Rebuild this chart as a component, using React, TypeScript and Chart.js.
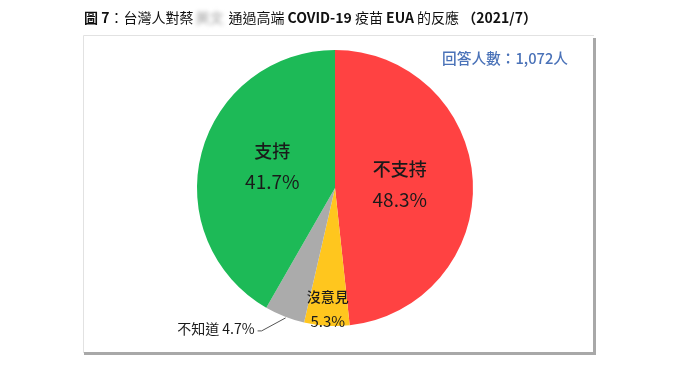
import React, { useEffect, useRef } from "react";
import { Chart, registerables } from "chart.js";

Chart.register(...registerables);

const categories = ["不支持", "沒意見", "不知道", "支持"];
const values = [48.3, 5.3, 4.7, 41.7];
const colors = ["#FF4242", "#FFC61E", "#ABABAB", "#1DBA57"];
const respondents = "回答人數：1,072人";

const FONT = '"Noto Sans CJK TC", "Noto Sans", sans-serif';

const decorPlugin = {
  id: "decor",
  beforeDraw(chart: any) {
    const ctx = chart.ctx as CanvasRenderingContext2D;
    ctx.save();
    ctx.fillStyle = "#ffffff";
    ctx.fillRect(0, 0, chart.width, chart.height);
    // frame
    ctx.strokeStyle = "#e2e2e2";
    ctx.lineWidth = 1;
    ctx.beginPath();
    ctx.moveTo(83.5, 353);
    ctx.lineTo(83.5, 35.5);
    ctx.lineTo(594, 35.5);
    ctx.stroke();
    ctx.strokeStyle = "#a8a8a8";
    ctx.lineWidth = 3;
    ctx.beginPath();
    ctx.moveTo(594.5, 38);
    ctx.lineTo(594.5, 353.5);
    ctx.lineTo(84, 353.5);
    ctx.stroke();
    // title
    const segs: [string, boolean, string][] = [
      ["圖 7", true, "#111"],
      ["：台灣人對蔡", false, "#111"],
      ["英文", false, "blur"],
      ["通過高端 ", false, "#111"],
      ["COVID-19", true, "#111"],
      [" 疫苗 ", false, "#111"],
      ["EUA", true, "#111"],
      [" 的反應 ", false, "#111"],
      ["（2021/7）", true, "#111"],
    ];
    let x = 84;
    ctx.textBaseline = "middle";
    ctx.textAlign = "left";
    for (const [t, b, c] of segs) {
      ctx.font = `${b ? "bold " : ""}14px ${FONT}`;
      if (c === "blur") {
        ctx.save();
        ctx.filter = "blur(2px)";
        ctx.fillStyle = "#9a9a9a";
        ctx.fillText(t, x + 2, 18);
        ctx.restore();
        x += ctx.measureText(t).width + 7;
      } else {
        ctx.fillStyle = c;
        ctx.fillText(t, x, 18);
        x += ctx.measureText(t).width;
      }
    }
    // respondents
    ctx.font = `500 14.7px ${FONT}`;
    ctx.fillStyle = "#4A72B8";
    ctx.textAlign = "right";
    ctx.fillText(respondents, 568, 58);
    ctx.restore();
  },
  afterDraw(chart: any) {
    const ctx = chart.ctx as CanvasRenderingContext2D;
    const meta = chart.getDatasetMeta(0);
    ctx.save();
    ctx.textAlign = "center";
    ctx.textBaseline = "middle";
    ctx.fillStyle = "#1a1a1a";
    meta.data.forEach((arc: any, i: number) => {
      const { x, y, startAngle, endAngle, outerRadius } = arc.getProps(
        ["x", "y", "startAngle", "endAngle", "outerRadius"],
        true
      );
      const mid = (startAngle + endAngle) / 2;
      const pct = values[i].toFixed(1) + "%";
      if (i === 2) {
        // external label with leader line
        const px = x + Math.cos(mid) * outerRadius * 0.98;
        const py = y + Math.sin(mid) * outerRadius * 0.98 + 4;
        ctx.strokeStyle = "#555";
        ctx.lineWidth = 1;
        ctx.beginPath();
        ctx.moveTo(px, py);
        ctx.lineTo(px - 24, py + 13);
        ctx.lineTo(px - 28, py + 13);
        ctx.stroke();
        ctx.font = `14px ${FONT}`;
        ctx.textAlign = "right";
        ctx.fillText(categories[i] + " " + pct, px - 31, py + 11);
        ctx.textAlign = "center";
        return;
      }
      let f = 0.47;
      let gap = 31;
      let dy = 0;
      let nameSize = 18;
      let pctSize = 19;
      if (i === 1) {
        f = 0.88;
        gap = 25;
        nameSize = 14;
        pctSize = 15;
      }
      if (i === 0) dy = 0;
      if (i === 3) dy = -5;
      const cx = x + Math.cos(mid) * outerRadius * f;
      const cy = y + Math.sin(mid) * outerRadius * f + dy;
      ctx.font = `500 ${nameSize}px ${FONT}`;
      ctx.fillText(categories[i], cx, cy - gap / 2);
      ctx.font = `${pctSize}px ${FONT}`;
      ctx.fillText(pct, cx, cy + gap / 2);
    });
    ctx.restore();
  },
};

export default function App() {
  const ref = useRef<HTMLCanvasElement>(null);
  useEffect(() => {
    if (!ref.current) return;
    const chart = new Chart(ref.current, {
      type: "pie",
      data: {
        labels: categories,
        datasets: [
          {
            data: values,
            backgroundColor: colors,
            borderWidth: 0,
          },
        ],
      },
      options: {
        responsive: false,
        animation: false,
        layout: { padding: { left: 197, right: 205, top: 50, bottom: 44 } },
        plugins: {
          legend: { display: false },
          tooltip: { enabled: false },
        },
      },
      plugins: [decorPlugin],
    } as any);
    return () => chart.destroy();
  }, []);
  return (
    <div style={{ position: "absolute", left: 0, top: 0, width: 678, height: 370, background: "#fff" }}>
      <canvas ref={ref} width={678} height={370} />
    </div>
  );
}
